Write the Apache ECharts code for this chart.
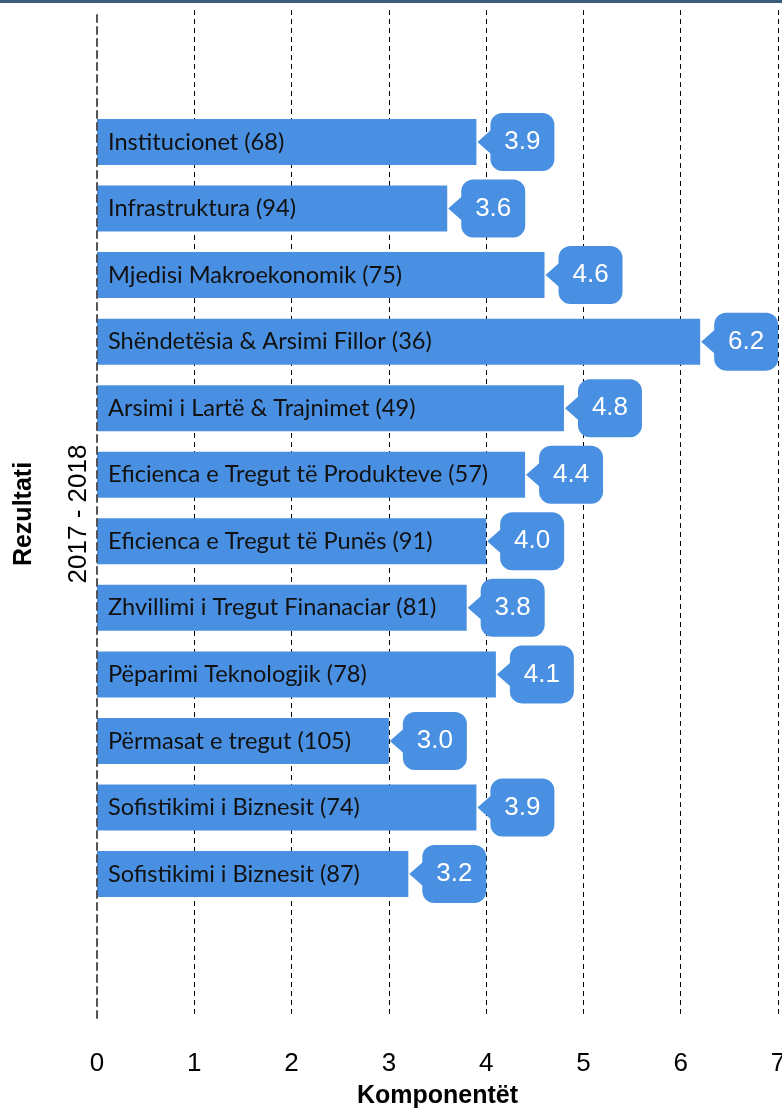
<!DOCTYPE html>
<html>
<head>
<meta charset="utf-8">
<style>
  html, body { margin: 0; padding: 0; background: #fff; }
  #chart { width: 782px; height: 1110px; }
</style>
<script src="https://cdn.jsdelivr.net/npm/echarts@6/dist/echarts.min.js"></script>
</head>
<body>
<div id="chart"></div>
<script>
// categories (rank in brackets) and scores, top to bottom
const categories = [
  'Institucionet (68)',
  'Infrastruktura (94)',
  'Mjedisi Makroekonomik (75)',
  'Shëndetësia & Arsimi Fillor (36)',
  'Arsimi i Lartë & Trajnimet (49)',
  'Eficienca e Tregut të Produkteve (57)',
  'Eficienca e Tregut të Punës (91)',
  'Zhvillimi i Tregut Finanaciar (81)',
  'Pëparimi Teknologjik (78)',
  'Përmasat e tregut (105)',
  'Sofistikimi i Biznesit (74)',
  'Sofistikimi i Biznesit (87)'
]
const scores = [3.9, 3.6, 4.6, 6.2, 4.8, 4.4, 4.0, 3.8, 4.1, 3.0, 3.9, 3.2]
const xTicks = [0, 1, 2, 3, 4, 5, 6, 7]

const barColor = '#4A90E2'
const arial = 'Liberation Sans, Arial, sans-serif'

const chart = echarts.init(document.getElementById('chart'), null, { renderer: 'canvas' })

chart.setOption({
  animation: false,
  graphic: [
    // dark strip along the top edge
    { type: 'rect', left: 0, top: 0, shape: { width: 782, height: 3 }, style: { fill: '#3d5b7a' } }
  ],
  grid: [
    // bars
    { left: 97, right: 4, top: 108.7, height: 798.6, outerBoundsMode: 'none' },
    // background frame: dashed lines, tick labels, axis names
    { left: 97, right: 4, top: 10, bottom: 92, outerBoundsMode: 'none' }
  ],
  xAxis: [
    {
      gridIndex: 0, type: 'value', min: 0, max: 7, interval: 1,
      axisLine: { show: false }, axisTick: { show: false },
      axisLabel: { show: false }, splitLine: { show: false }
    },
    {
      gridIndex: 1, type: 'value', min: xTicks[0], max: xTicks[xTicks.length - 1], interval: 1,
      axisLine: { show: false }, axisTick: { show: false },
      axisLabel: { margin: 33, color: '#000', fontSize: 26, fontFamily: arial },
      splitLine: {
        show: true, showMinLine: false,
        lineStyle: { color: '#000', width: 1, type: [5, 4] }
      },
      name: 'Komponentët',
      nameLocation: 'middle',
      nameGap: 66,
      nameTextStyle: { color: '#000', fontSize: 25, fontWeight: 'bold', fontFamily: arial }
    }
  ],
  yAxis: [
    {
      gridIndex: 0, type: 'category', inverse: true, data: categories,
      axisLine: { show: false }, axisTick: { show: false },
      axisLabel: { show: false }, splitLine: { show: false }
    },
    {
      gridIndex: 1, type: 'value', min: 0, max: 1, z: 10, position: 'left',
      axisLine: { show: true, lineStyle: { color: '#555', width: 2, type: [7, 5] } },
      axisTick: { show: false }, axisLabel: { show: false }, splitLine: { show: false },
      name: '2017 - 2018',
      nameLocation: 'middle',
      nameRotate: 90,
      nameGap: 5,
      nameTextStyle: { color: '#000', fontSize: 26, fontFamily: arial }
    },
    {
      gridIndex: 1, type: 'value', min: 0, max: 1, position: 'left',
      axisLine: { show: false }, axisTick: { show: false },
      axisLabel: { show: false }, splitLine: { show: false },
      name: 'Rezultati',
      nameLocation: 'middle',
      nameRotate: 90,
      nameGap: 60,
      nameTextStyle: { color: '#000', fontSize: 25, fontWeight: 'bold', fontFamily: arial }
    }
  ],
  series: [
    {
      type: 'bar',
      xAxisIndex: 0,
      yAxisIndex: 0,
      data: scores,
      barWidth: 46,
      itemStyle: { color: barColor },
      label: {
        show: true,
        position: 'insideLeft',
        distance: 11,
        formatter: p => p.name,
        color: '#111',
        fontSize: 23.6,
        fontFamily: 'Lato, sans-serif'
      }
    },
    {
      // speech-bubble value labels at the end of each bar
      type: 'custom',
      xAxisIndex: 0,
      yAxisIndex: 0,
      data: scores.map((v, i) => [v, i]),
      encode: { x: 0, y: 1 },
      z: 5,
      renderItem: (params, api) => {
        const pt = api.coord([api.value(0), api.value(1)])
        const x = pt[0]
        const y = pt[1]
        return {
          type: 'group',
          children: [
            {
              type: 'polygon',
              shape: { points: [[x + 1, y], [x + 18, y - 15], [x + 18, y + 15]] },
              style: { fill: barColor }
            },
            {
              type: 'rect',
              shape: { x: x + 14, y: y - 29, width: 64, height: 58, r: 12 },
              style: { fill: barColor }
            },
            {
              type: 'text',
              style: {
                x: x + 46, y: y,
                text: api.value(0).toFixed(1),
                fill: '#fff',
                fontSize: 26,
                fontFamily: arial,
                align: 'center',
                verticalAlign: 'middle'
              }
            }
          ]
        }
      }
    }
  ]
})
</script>
</body>
</html>
